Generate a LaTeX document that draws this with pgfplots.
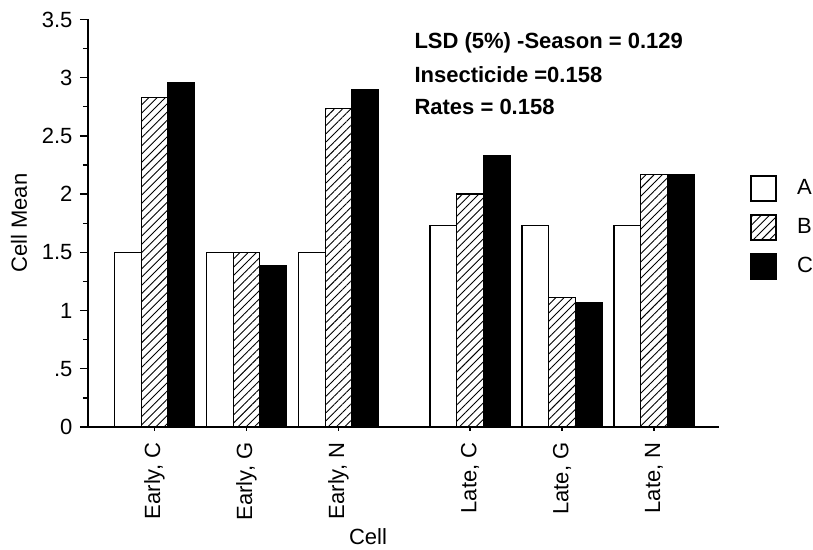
\documentclass[border=0pt]{standalone}
\usepackage{pgfplots}
\pgfplotsset{compat=1.18}
\usepackage{fontspec}
\setmainfont{Liberation Sans}
\usetikzlibrary{patterns.meta,calc}
\newcommand\lf{\fontsize{22}{26}\selectfont}
\begin{document}
\lf
\begin{tikzpicture}
\begin{axis}[
  name=ax,
  scale only axis,
  width=631pt, height=407.5pt,
  xmin=-0.723, xmax=6.136,
  ymin=0, ymax=3.5,
  axis x line=bottom, axis y line=left,
  axis line style={-, line width=1.8pt},
  ybar=0pt, bar width=0.29,
  xtick={0,1,2,3.43,4.43,5.43},
  xticklabels={{Early, C},{Early, G},{Early, N},{Late, C},{Late, G},{Late, N}},
  xticklabel style={rotate=90, anchor=east, font=\lf},
  ytick={0,0.5,1,1.5,2,2.5,3,3.5},
  yticklabels={0,.5,1,1.5,2,2.5,3,3.5},
  yticklabel style={font=\lf},
  minor y tick num=1,
  tick align=outside,
  major tick length=8pt, minor tick length=5pt,
  x tick style={/pgfplots/major tick length=4pt},
  tick style={line width=1.3pt, black},
  /pgf/number format/assume math mode=true,
  ylabel={Cell Mean},
  ylabel style={font=\lf},
  legend style={at={(rel axis cs:1.0491,0.6184)}, anchor=north west, draw=none, fill=none,
    inner sep=0pt, row sep=12pt, column sep=20pt,
    font=\lf,
    nodes={inner sep=0pt, anchor=west}},
  legend cell align=left,
  legend image code/.code={\draw[#1, line width=2pt] (0pt,-12.5pt) rectangle (25pt,12.5pt);},
  clip=false,
]
\addplot[draw=black, line width=1.3pt, fill=white] coordinates {
  (0,1.5) (1,1.5) (2,1.5) (3.43,1.733) (4.43,1.733) (5.43,1.733)};
\addplot[draw=black, line width=1.3pt, pattern={Lines[angle=45, distance=5.8pt, line width=0.9pt]}, pattern color=black] coordinates {
  (0,2.833) (1,1.5) (2,2.733) (3.43,2.0) (4.43,1.111) (5.43,2.167)};
\addplot[draw=black, line width=1.3pt, fill=black] coordinates {
  (0,2.958) (1,1.389) (2,2.9) (3.43,2.333) (4.43,1.067) (5.43,2.167)};
\legend{A,B,C}
\end{axis}
\node[font=\lf] at ($(ax.south west)+(280pt,-110pt)$) {Cell};
\node[anchor=west, font=\bfseries\lf] at ($(ax.south west)+(319pt,384pt)$) {LSD (5\%) -Season = 0.129};
\node[anchor=west, font=\bfseries\lf] at ($(ax.south west)+(319pt,352pt)$) {Insecticide =0.158};
\node[anchor=west, font=\bfseries\lf] at ($(ax.south west)+(319pt,320pt)$) {Rates = 0.158};
\pgfresetboundingbox
\path ($(ax.south west)+(-88pt,-123pt)$) rectangle ($(ax.north east)+(94pt,19.5pt)$);
\end{tikzpicture}
\end{document}
